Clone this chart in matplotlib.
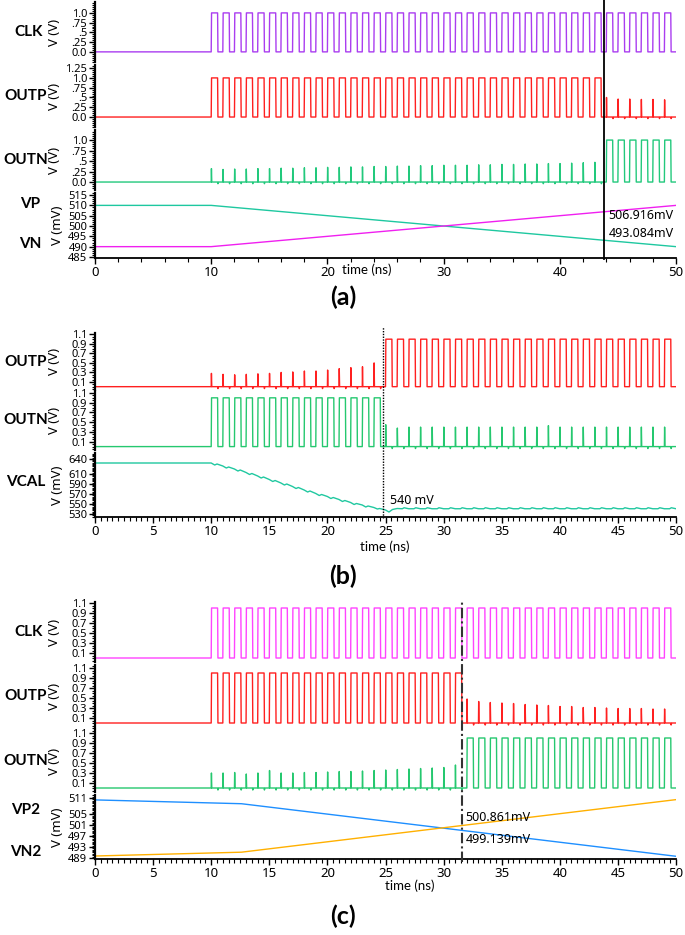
import numpy as np
import matplotlib
matplotlib.use("Agg")
import matplotlib.pyplot as plt
from matplotlib.ticker import FixedLocator, FixedFormatter, MultipleLocator
from matplotlib.transforms import blended_transform_factory

# ------------------------------------------------------------------ data
T_END = 50.0
clk_start = 10.0          # first rising edge (ns)
clk_period = 1.0          # ns
clk_duty = 0.55
n_cycles = 40             # 10 ... 49

# panel (a)
a_switch = 44             # first cycle where OUTP only spikes / OUTN toggles
a_cursor = 43.8
a_outn_spikes = [0.32, 0.30, 0.31, 0.31, 0.32, 0.32, 0.33, 0.33, 0.34, 0.34,
                 0.35, 0.35, 0.36, 0.36, 0.37, 0.37, 0.38, 0.38, 0.39, 0.39,
                 0.40, 0.40, 0.40, 0.41, 0.41, 0.42, 0.42, 0.43, 0.43, 0.44,
                 0.44, 0.45, 0.46, 0.47]
a_outp_spikes = [0.50, 0.46, 0.46, 0.45, 0.45, 0.44]
a_vpn_t = [0, 10, 50]
a_vp = [510, 510, 490]
a_vn = [490, 490, 510]
a_vp_text = "493.084mV"
a_vn_text = "506.916mV"

# panel (b)
b_switch = 25
b_cursor = 24.8
b_outp_spikes = [0.28, 0.26, 0.25, 0.26, 0.27, 0.28, 0.30, 0.31, 0.33, 0.33,
                 0.35, 0.38, 0.40, 0.42, 0.50]
b_outn_spikes = [0.45, 0.38, 0.40, 0.40, 0.40, 0.40, 0.40, 0.40, 0.40, 0.40,
                 0.40, 0.40, 0.40, 0.40, 0.43, 0.40, 0.40, 0.40, 0.40, 0.40,
                 0.40, 0.40, 0.40, 0.40, 0.40]
b_vcal_t = [0, 10, 10.3, 10.5, 11.0, 11.3, 11.5, 12.0, 12.3, 12.5, 13.0, 13.3, 13.5,
            14.0, 14.3, 14.5, 15.0, 15.3, 15.5, 16.0, 16.3, 16.5, 17.0, 17.3, 17.5,
            18.0, 18.3, 18.5, 19.0, 19.3, 19.5, 20.0, 20.3, 20.5, 21.0, 21.3, 21.5,
            22.0, 22.3, 22.5, 23.0, 23.3, 23.5, 24.0, 24.3, 24.5, 25.0, 25.3, 25.6,
            26.0]
b_vcal_v = [632, 632, 628, 630, 626, 622, 624, 620, 616, 618, 613, 609, 611,
            606, 602, 604, 599, 595, 597, 592, 588, 590, 585, 581, 583,
            578, 574, 576, 571, 567, 569, 565, 561, 563, 559, 555, 557,
            553, 549, 551, 548, 544, 546, 543, 540, 541, 538, 534, 539,
            541]
b_vcal_ripple_lo = 540.5
b_vcal_ripple_hi = 542.5
b_text = "540 mV"

# panel (c)
c_switch = 32
c_cursor = 31.6
c_outn_spikes = [0.30, 0.30, 0.31, 0.28, 0.30, 0.35, 0.30, 0.30, 0.31, 0.31,
                 0.32, 0.33, 0.33, 0.34, 0.35, 0.36, 0.37, 0.38, 0.39, 0.40,
                 0.41, 0.46]
c_outp_spikes = [0.48, 0.43, 0.41, 0.40, 0.39, 0.37, 0.36, 0.35, 0.33, 0.33,
                 0.31, 0.31, 0.30, 0.29, 0.29, 0.29, 0.28, 0.28]
c_vpn_t = [0, 12.6, 50]
c_vp2 = [510.3, 508.9, 489.6]
c_vn2 = [489.7, 491.1, 510.4]
c_vn2_text = "500.861mV"
c_vp2_text = "499.139mV"

# tick labels
a_v_ticks = [0, 0.25, 0.5, 0.75, 1.0]
a_v_labels = ["0.0", ".25", ".5", ".75", "1.0"]
a_outp_ticks = [0, 0.25, 0.5, 0.75, 1.0, 1.25]
a_outp_labels = ["0.0", ".25", ".5", ".75", "1.0", "1.25"]
a_mv_ticks = [485, 490, 495, 500, 505, 510, 515]
bc_v_ticks = [0.1, 0.3, 0.5, 0.7, 0.9, 1.1]
bc_v_labels = ["0.1", "0.3", "0.5", "0.7", "0.9", "1.1"]
b_mv_ticks = [530, 550, 570, 590, 610, 640]
c_mv_ticks = [489, 493, 497, 501, 505, 511]

# ------------------------------------------------------------------ helpers
def trace(kinds_heights, high=1.0):
    t = [0.0, clk_start]
    v = [0.0, 0.0]
    for k, (kind, h) in enumerate(kinds_heights):
        t0 = clk_start + k * clk_period
        if kind == "P":
            t += [t0 + 0.03, t0 + clk_duty, t0 + clk_duty + 0.03, t0 + clk_period]
            v += [high, high, 0.0, 0.0]
        else:
            t += [t0 + 0.02, t0 + 0.05, t0 + clk_duty, t0 + clk_duty + 0.03,
                  t0 + clk_duty + 0.08, t0 + clk_period]
            v += [h, 0.0, 0.0, -0.04, 0.0, 0.0]
    t.append(T_END)
    v.append(0.0)
    return np.array(t), np.array(v)


def build(switch, pre_spikes, post_spikes, full_before):
    seq = []
    n_pre = int(switch - clk_start)
    for k in range(n_cycles):
        if k < n_pre:
            seq.append(("P", 0) if full_before else ("S", pre_spikes[k]))
        else:
            seq.append(("S", post_spikes[k - n_pre]) if full_before else ("P", 0))
    return trace(seq)


W, H = 685, 935
fig = plt.figure(figsize=(W / 100, H / 100), dpi=100)
plt.rcParams['font.family'] = ['Noto Sans', 'DejaVu Sans']

X0, X1 = 95, 676
YTICK_FS = 8
XTICK_FS = 9.5
YLAB_FS = 9.5
NAME_FS = 11
NAME_X = 26


def mk_ax(top, bottom, ylim, ticks, labels, minor, last=False, xmajor=10, xminor=2):
    ax = fig.add_axes([X0 / W, 1 - bottom / H, (X1 - X0) / W, (bottom - top) / H])
    ax.set_xlim(0, T_END)
    ax.set_ylim(*ylim)
    for s in ["top", "right"]:
        ax.spines[s].set_visible(False)
    ax.spines["left"].set_linewidth(1.6)
    ax.spines["bottom"].set_visible(last)
    ax.spines["bottom"].set_linewidth(1.3)
    ax.yaxis.set_major_locator(FixedLocator(ticks))
    ax.yaxis.set_major_formatter(FixedFormatter(labels))
    ax.yaxis.set_minor_locator(MultipleLocator(minor))
    ax.tick_params(axis="y", which="major", length=4, width=1, labelsize=YTICK_FS, pad=1.5)
    ax.tick_params(axis="y", which="minor", length=2.5, width=0.8)
    ax.xaxis.set_major_locator(MultipleLocator(xmajor))
    ax.xaxis.set_minor_locator(MultipleLocator(xminor))
    if last:
        ax.tick_params(axis="x", which="major", length=4, width=1, labelsize=XTICK_FS, pad=2)
        ax.tick_params(axis="x", which="minor", length=3, width=0.8)
    else:
        ax.tick_params(axis="x", which="both", bottom=False, labelbottom=False)
    ax.patch.set_alpha(0)
    return ax


def set_ylab(ax, unit, xpx):
    # xpx is the right edge (text baseline side) of the rotated label
    ax.set_ylabel(unit, fontsize=YLAB_FS)
    ax.yaxis.set_label_coords((xpx - X0) / (X1 - X0), 0.5)


def label(ax, name, unit, name_x=NAME_X, unit_x=61):
    ax.text(name_x / W, 0.5, name, transform=blended_transform_factory(fig.transFigure, ax.transAxes),
            ha="center", va="center", fontsize=NAME_FS, fontweight="bold", family="Lato")
    set_ylab(ax, unit, unit_x)


def name_at(ax, name, yval, x=NAME_X):
    ax.text(x / W, yval, name, transform=blended_transform_factory(fig.transFigure, ax.transData),
            ha="center", va="center", fontsize=NAME_FS, fontweight="bold", family="Lato")


LW = 1.0
RED = "#FF2020"
GREEN_A = "#22C97C"
GREEN = "#25C86F"

# ------------------------------------------------------------------ panel (a)
clk_t, clk_v = trace([("P", 0)] * n_cycles)
ax_a1 = mk_ax(2, 62, (-0.26, 1.28), a_v_ticks, a_v_labels, 0.05)
ax_a1.plot(clk_t, clk_v, color="#AA3DF0", lw=LW)
label(ax_a1, "CLK", "V (V)", name_x=29)

ax_a2 = mk_ax(65, 127, (-0.255, 1.33), a_outp_ticks, a_outp_labels, 0.05)
t, v = build(a_switch, None, a_outp_spikes, True)
ax_a2.plot(t, v, color=RED, lw=LW)
label(ax_a2, "OUTP", "V (V)")

ax_a3 = mk_ax(130, 190, (-0.19, 1.24), a_v_ticks, a_v_labels, 0.05)
t, v = build(a_switch, a_outn_spikes, None, False)
ax_a3.plot(t, v, color=GREEN_A, lw=LW)
label(ax_a3, "OUTN", "V (V)")

ax_a4 = mk_ax(193, 258, (484.5, 516), a_mv_ticks, [str(x) for x in a_mv_ticks], 1,
              last=True, xmajor=10, xminor=2)
ax_a4.plot(a_vpn_t, a_vp, color="#1EC8A0", lw=LW)
ax_a4.plot(a_vpn_t, a_vn, color="#F020F0", lw=LW)
set_ylab(ax_a4, "V (mV)", 64)
name_at(ax_a4, "VP", 510.5, x=30)
name_at(ax_a4, "VN", 491.5, x=30)
ax_a4.text(a_cursor + 0.4, 505.2, a_vn_text, fontsize=9, va="center", ha="left")
ax_a4.text(a_cursor + 0.4, 496.4, a_vp_text, fontsize=9, va="center", ha="left")

tr = blended_transform_factory(ax_a4.transData, fig.transFigure)
fig.add_artist(plt.Line2D([a_cursor, a_cursor], [1 - 259 / H, 1 - 0 / H], transform=tr,
                          color="black", lw=1.3))
fig.text(367 / W, 1 - 270 / H, "time (ns)", ha="center", va="center", fontsize=9.5, family="Lato")
fig.text(343 / W, 1 - 297 / H, "(a)", ha="center", va="center", fontsize=18,
         fontweight="bold", family="Lato")

# ------------------------------------------------------------------ panel (b)
ax_b1 = mk_ax(333, 390, (-0.07, 1.13), bc_v_ticks, bc_v_labels, 0.05)
t, v = build(b_switch, b_outp_spikes, None, False)
ax_b1.plot(t, v, color=RED, lw=LW)
label(ax_b1, "OUTP", "V (V)")

ax_b2 = mk_ax(391, 450, (-0.07, 1.14), bc_v_ticks, bc_v_labels, 0.05)
t, v = build(b_switch, None, b_outn_spikes, True)
ax_b2.plot(t, v, color=GREEN, lw=LW)
label(ax_b2, "OUTN", "V (V)")

ax_b3 = mk_ax(453, 517, (524, 652), b_mv_ticks, [str(x) for x in b_mv_ticks], 2.5,
              last=True, xmajor=5, xminor=0.5)
vt = list(b_vcal_t)
vv = list(b_vcal_v)
for k in range(26, 50):
    vt += [k + 0.45, k + 0.6, k + 1.0]
    vv += [b_vcal_ripple_lo, b_vcal_ripple_hi, b_vcal_ripple_lo]
ax_b3.plot(vt, vv, color="#20C8A0", lw=LW)
set_ylab(ax_b3, "V (mV)", 64)
name_at(ax_b3, "VCAL", 595)
ax_b3.text(b_cursor + 0.6, 558, b_text, fontsize=9, va="center", ha="left")

tr = blended_transform_factory(ax_b3.transData, fig.transFigure)
fig.add_artist(plt.Line2D([b_cursor, b_cursor], [1 - 518 / H, 1 - 327 / H], transform=tr,
                          color="black", lw=1.0, ls=(0, (1, 1))))
fig.text(385 / W, 1 - 547 / H, "time (ns)", ha="center", va="center", fontsize=9.5, family="Lato")
fig.text(343 / W, 1 - 576 / H, "(b)", ha="center", va="center", fontsize=18,
         fontweight="bold", family="Lato")

# ------------------------------------------------------------------ panel (c)
ax_c1 = mk_ax(602, 662, (-0.08, 1.12), bc_v_ticks, bc_v_labels, 0.05)
ax_c1.plot(clk_t, clk_v, color="#FF44FF", lw=LW)
label(ax_c1, "CLK", "V (V)", name_x=29)

ax_c2 = mk_ax(665, 728, (-0.1, 1.16), bc_v_ticks, bc_v_labels, 0.05)
t, v = build(c_switch, None, c_outp_spikes, True)
ax_c2.plot(t, v, color=RED, lw=LW)
label(ax_c2, "OUTP", "V (V)")

ax_c3 = mk_ax(730, 792, (-0.08, 1.16), bc_v_ticks, bc_v_labels, 0.05)
t, v = build(c_switch, c_outn_spikes, None, False)
ax_c3.plot(t, v, color=GREEN, lw=LW)
label(ax_c3, "OUTN", "V (V)")

ax_c4 = mk_ax(795, 859, (488.6, 512.1), c_mv_ticks, [str(x) for x in c_mv_ticks], 0.5,
              last=True, xmajor=5, xminor=0.5)
ax_c4.plot(c_vpn_t, c_vp2, color="#1E8FFF", lw=LW)
ax_c4.plot(c_vpn_t, c_vn2, color="#FFB000", lw=LW)
set_ylab(ax_c4, "V (mV)", 64)
name_at(ax_c4, "VP2", 506.5)
name_at(ax_c4, "VN2", 491.3)
ax_c4.text(c_cursor + 0.3, 504.0, c_vn2_text, fontsize=9, va="center", ha="left")
ax_c4.text(c_cursor + 0.3, 495.6, c_vp2_text, fontsize=9, va="center", ha="left")

tr = blended_transform_factory(ax_c4.transData, fig.transFigure)
fig.add_artist(plt.Line2D([c_cursor, c_cursor], [1 - 862 / H, 1 - 600 / H], transform=tr,
                          color="#333333", lw=1.5, ls=(0, (5, 1.5, 1, 1.5))))
fig.text(410 / W, 1 - 886 / H, "time (ns)", ha="center", va="center", fontsize=9.5, family="Lato")
fig.text(343 / W, 1 - 916 / H, "(c)", ha="center", va="center", fontsize=18,
         fontweight="bold", family="Lato")

fig.savefig("out.png", dpi=100, facecolor="white")
